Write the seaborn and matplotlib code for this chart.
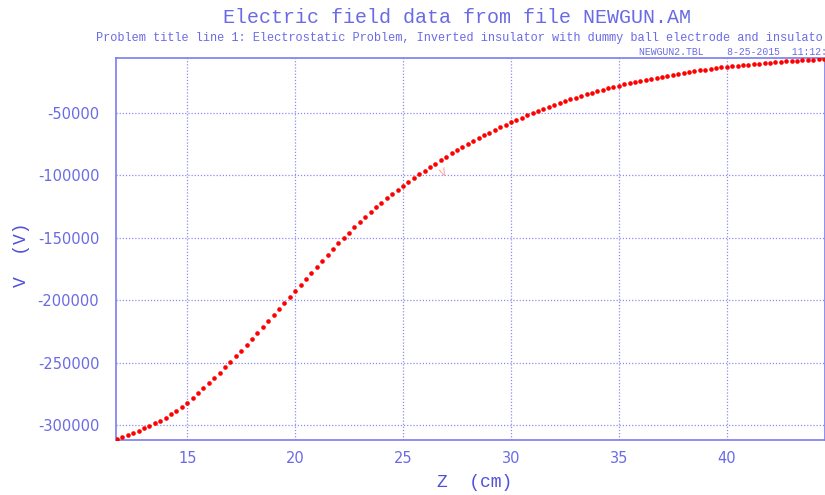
import numpy as np
import pandas as pd
import matplotlib
matplotlib.use("Agg")
import matplotlib.pyplot as plt
import seaborn as sns

# dati: Z in cm, V in volt
z_cm = [11.75, 12.0, 12.25, 12.5, 12.75, 13.0, 13.25, 13.5, 13.75,
        14.0, 14.25, 14.5, 14.75, 15.0, 15.25, 15.5, 15.75,
        16.0, 16.25, 16.5, 16.75, 17.0, 17.25, 17.5, 17.75,
        18.0, 18.25, 18.5, 18.75, 19.0, 19.25, 19.5, 19.75,
        20.0, 20.25, 20.5, 20.75, 21.0, 21.25, 21.5, 21.75,
        22.0, 22.25, 22.5, 22.75, 23.0, 23.25, 23.5, 23.75,
        24.0, 24.25, 24.5, 24.75, 25.0, 25.25, 25.5, 25.75,
        26.0, 26.25, 26.5, 26.75, 27.0, 27.25, 27.5, 27.75,
        28.0, 28.25, 28.5, 28.75, 29.0, 29.25, 29.5, 29.75,
        30.0, 30.25, 30.5, 30.75, 31.0, 31.25, 31.5, 31.75,
        32.0, 32.25, 32.5, 32.75, 33.0, 33.25, 33.5, 33.75,
        34.0, 34.25, 34.5, 34.75, 35.0, 35.25, 35.5, 35.75,
        36.0, 36.25, 36.5, 36.75, 37.0, 37.25, 37.5, 37.75,
        38.0, 38.25, 38.5, 38.75, 39.0, 39.25, 39.5, 39.75,
        40.0, 40.25, 40.5, 40.75, 41.0, 41.25, 41.5, 41.75,
        42.0, 42.25, 42.5, 42.75, 43.0, 43.25, 43.5, 43.75,
        44.0, 44.25, 44.5]

v_volt = [-310700, -309300, -307800, -306000, -304400, -302500, -300600, -298500, -296300,
          -293800, -291200, -288300, -285400, -282000, -278500, -274500, -270500,
          -266500, -262400, -258100, -253700, -249300, -244800, -240200, -235600,
          -230900, -226200, -221400, -216700, -211850, -207000, -202150, -197300,
          -192450, -187600, -182800, -177850, -173100, -168350, -163700, -159000,
          -154500, -150000, -145800, -141500, -137350, -133200, -129400, -125500,
          -121850, -118200, -115000, -111700, -108500, -105300, -102300, -99200,
          -96300, -93400, -90550, -87700, -85000, -82300, -79800, -77200,
          -74800, -72400, -70200, -68000, -65800, -63650, -61550, -59450,
          -57500, -55550, -53750, -51900, -50200, -48500, -46850, -45200,
          -43700, -42200, -40700, -39250, -37900, -36550, -35250, -34000,
          -32800, -31600, -30450, -29350, -28300, -27250, -26250, -25300,
          -24400, -23500, -22600, -21800, -21000, -20200, -19450, -18750,
          -18050, -17350, -16700, -16050, -15450, -14850, -14300, -13700,
          -13200, -12700, -12250, -11800, -11350, -10900, -10550, -10150,
          -9800, -9450, -9130, -8800, -8500, -8200, -7930, -7650,
          -7400, -7150, -6900]

x_ticks = [15, 20, 25, 30, 35, 40]
y_ticks = [-300000, -250000, -200000, -150000, -100000, -50000]

titolo = "Electric field data from file NEWGUN.AM"
sottotitolo = ("Problem title line 1: Electrostatic Problem, Inverted insulator "
               "with dummy ball electrode and insulato")
info_file = "NEWGUN2.TBL    8-25-2015  11:12:"

blu_testo = "#6a6ae6"
blu_assi = "#7c7cf0"
blu_griglia = "#8c8cee"

sns.set_style("white")
plt.rcParams["axes.unicode_minus"] = False
plt.rcParams["font.family"] = ["DejaVu Sans"]

df = pd.DataFrame({"z": z_cm, "v": v_volt})

fig = plt.figure(figsize=(8.25, 4.95), dpi=100)
ax = fig.add_axes([0.1406, 0.112, 0.8594, 0.7705])

sns.scatterplot(data=df, x="z", y="v", ax=ax, color="#ff0000", s=11,
                linewidth=0, zorder=3)

ax.set_xlim(11.7, 44.55)
ax.set_ylim(-311400, -6250)
ax.set_xticks(x_ticks)
ax.set_yticks(y_ticks)

ax.grid(True, color=blu_griglia, linestyle=(0, (1, 1.5)), linewidth=0.9)
for lato in ["left", "bottom", "top", "right"]:
    ax.spines[lato].set_color(blu_assi)
    ax.spines[lato].set_linewidth(1.2)

ax.tick_params(axis="both", direction="in", length=6, width=1.2,
               color=blu_assi, labelcolor=blu_testo, labelsize=10.5)
ax.tick_params(axis="y", pad=12)
ax.tick_params(axis="x", pad=8)

ax.set_xlabel("Z  (cm)", family="Liberation Mono", fontsize=13,
              color="#5050dc")
ax.set_ylabel("V  (V)", family="Liberation Mono", fontsize=13,
              color="#5050dc")
ax.xaxis.set_label_coords(0.506, -0.09)
ax.yaxis.set_label_coords(-0.121, 0.484)

# piccola etichetta rosa sulla curva
ax.text(26.9, -98000, "V", color="#ff9a9a", fontsize=7, rotation=25,
        ha="center", va="center", family="DejaVu Sans")

fig.text(0.554, 0.965, titolo, family="Liberation Mono", fontsize=14.4,
         color=blu_testo, ha="center", va="center")
fig.text(0.116, 0.923, sottotitolo, family="Liberation Mono", fontsize=8.6,
         color=blu_testo, ha="left", va="center")
fig.text(1.002, 0.895, info_file, family="Liberation Mono", fontsize=7,
         color=blu_testo, ha="right", va="center")

fig.savefig("out.png", dpi=100)
